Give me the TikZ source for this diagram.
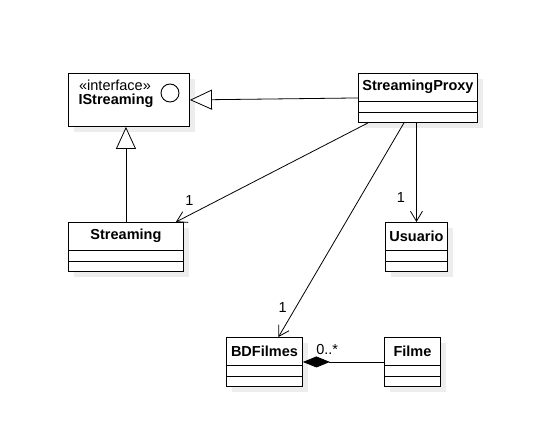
\documentclass[tikz,border=0pt]{standalone}
\usepackage{fontspec}
\setmainfont{Liberation Sans}
\usetikzlibrary{arrows.meta,calc,shadows}

\tikzset{
    umlbox/.style={draw, line width=0.9pt, fill=white, inner sep=0pt, anchor=north west,
        drop shadow={fill=black!7, shadow xshift=6pt, shadow yshift=-6pt, opacity=1}},
    umltitle/.style={font=\fontsize{14.5}{16}\selectfont\bfseries, inner sep=1pt},
    umltext/.style={font=\fontsize{14.5}{16}\selectfont, inner sep=1pt},
    realize/.style={line width=0.8pt, -{Triangle[open, length=22pt, width=20pt, fill=white]}},
    assoc/.style={line width=0.8pt, -{Straight Barb[length=10pt, width=12pt]}},
    compose/.style={line width=0.8pt, -{Diamond[length=27pt, width=11pt]}},
}

% class box: name, x, y, width, title
\newcommand{\umlclass}[5]{
    \node[umlbox, minimum width=#4pt, minimum height=49pt] (#1) at (#2, #3) {};
    \node[umltitle] (#1-title) at ($(#1.north)+(0, 14)$) {#5};
    \draw[line width=0.9pt] ($(#1.north west)+(0, 28)$) -- ($(#1.north east)+(0, 28)$);
    \draw[line width=0.9pt] ($(#1.north west)+(0, 39)$) -- ($(#1.north east)+(0, 39)$);
}

\begin{document}
\begin{tikzpicture}[x=1pt, y=-1pt]
    \useasboundingbox (0, 0) rectangle (540, 423);

    %% interface
    \node[umlbox, minimum width=121pt, minimum height=53pt] (iface) at (68, 73) {};
    \node[umltext] (iface-stereo) at (115, 85) {«interface»};
    \node[umltitle] (iface-title) at (116, 101) {IStreaming};
    \draw[line width=0.9pt] (170, 93) circle (9);

    %% classes
    \umlclass{proxy}{358}{73}{119}{StreamingProxy}
    \umlclass{stream}{68}{222}{115}{Streaming}
    \umlclass{usuario}{385}{222}{62}{Usuario}
    \umlclass{bdfilmes}{226}{337}{76}{BDFilmes}
    \umlclass{filme}{384}{337}{56}{Filme}

    %% realizations
    \draw[realize] (proxy.west) -- (iface.east);
    \draw[realize] (stream.north) -- (stream.north |- iface.south);

    %% associations
    \draw[assoc]
    ($(proxy.south west)+(10, 0)$)
    --
    ($(stream.north east)+(-8, 0)$) node[umltext, pos=0.87, above left=2pt, xshift=-4pt]{1} ;
    \draw[assoc]
    ($(proxy.south)+(-14, 0)$)
    --
    ($(bdfilmes.north)+(14, 0)$) node[umltext, pos=0.86, left=8pt]{1} ;
    \draw[assoc]
    (usuario.north |- proxy.south)
    --
    (usuario.north) node[umltext, pos=0.75, left=10pt]{1} ;

    %% composition
    \draw[compose] (filme.west) -- (bdfilmes.east) node[umltext, pos=0.7, above=6pt]{0..*} ;
\end{tikzpicture}
\end{document}
